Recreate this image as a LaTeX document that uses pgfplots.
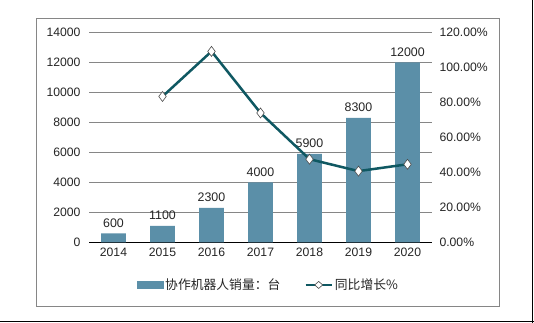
\documentclass[border=0pt]{standalone}
\usepackage{pgfplots}
\pgfplotsset{compat=1.18}
\usepackage{fontspec}
\setmainfont{Liberation Sans}
\newfontfamily\cjk{Noto Sans CJK SC}
\definecolor{barc}{HTML}{5B8FA8}
\definecolor{linec}{HTML}{0F5862}
\definecolor{gridc}{HTML}{868686}
\definecolor{txtc}{HTML}{262626}
\begin{document}
\begin{tikzpicture}
\path[use as bounding box] (0pt,0pt) rectangle (534pt,323pt);
\fill[white] (0pt,0pt) rectangle (534pt,323pt);
\draw[gridc, line width=0.9pt] (36pt,17pt) rectangle (499pt,305pt);
\draw[black, line width=1.3pt] (0pt,1.3pt) -- (534pt,1.3pt);
\draw[black, line width=1.3pt] (532.7pt,0pt) -- (532.7pt,323pt);

\begin{axis}[at={(89pt,80.7pt)}, anchor=south west, scale only axis,
  width=343pt, height=210pt,
  xmin=-0.5, xmax=6.5, ymin=0, ymax=14000,
  ytick={0,2000,...,14000},
  xtick={0,...,6}, xticklabels={2014,2015,2016,2017,2018,2019,2020},
  axis x line*=bottom, axis y line*=left,
  y axis line style={draw=none},
  x axis line style={black, line width=0.9pt, -},
  xtick style={draw=none}, ytick style={draw=none},
  ymajorgrids, grid style={gridc, line width=0.8pt},
  scaled y ticks=false,
  /pgf/number format/.cd, 1000 sep={}, assume math mode=true,
  /pgfplots/.cd,
  ticklabel style={font=\fontsize{12.2}{14}\selectfont, text=txtc},
  yticklabel style={xshift=-5pt},
  xticklabel style={yshift=-2pt},
  ]
\addplot[ybar, bar width=24.7pt, fill=barc, draw=none,
  nodes near coords,
  nodes near coords style={font=\fontsize{12.4}{14}\selectfont, text=txtc, yshift=2.5pt}]
  coordinates {(0,600) (1,1100) (2,2300) (3,4000) (4,5900) (5,8300) (6,12000)};
\end{axis}

\begin{axis}[at={(89pt,80.7pt)}, anchor=south west, scale only axis,
  width=343pt, height=210pt,
  xmin=-0.5, xmax=6.5, ymin=0, ymax=120,
  ytick={0,20,...,120},
  axis y line*=right, axis x line=none,
  y axis line style={draw=none},
  ytick style={draw=none},
  yticklabel={\pgfmathprintnumber[fixed,fixed zerofill,precision=2,assume math mode=true]{\tick}\%},
  yticklabel style={font=\fontsize{12.2}{14}\selectfont, text=txtc, xshift=4pt},
  legend columns=2,
  legend style={at={(0.523,-0.203)}, anchor=center, draw=none, fill=none,
    font=\cjk\fontsize{12.8}{14}\selectfont, text=txtc,
    /tikz/every even column/.append style={column sep=22pt}},
  ]
\addlegendimage{legend image code/.code={\fill[barc] (0pt,-3.5pt) rectangle (26pt,3.5pt);}}
\addlegendentry{协作机器人销量：台}
\addplot[linec, line width=2.5pt, mark=diamond*, mark size=5pt,
  mark options={fill=white, draw=gray!60!black, line width=0.6pt},
  legend image code/.code={\draw[linec, line width=2.5pt] (0pt,0pt) -- (26pt,0pt);
     \draw[fill=white, draw=gray!60!black, line width=0.6pt] (13pt,-3.5pt) -- (17pt,0pt) -- (13pt,3.5pt) -- (9pt,0pt) -- cycle;}]
  coordinates {(1,83.33) (2,109.09) (3,73.91) (4,47.50) (5,40.68) (6,44.58)};
\addlegendentry{同比增长\%}
\end{axis}
\end{tikzpicture}
\end{document}
